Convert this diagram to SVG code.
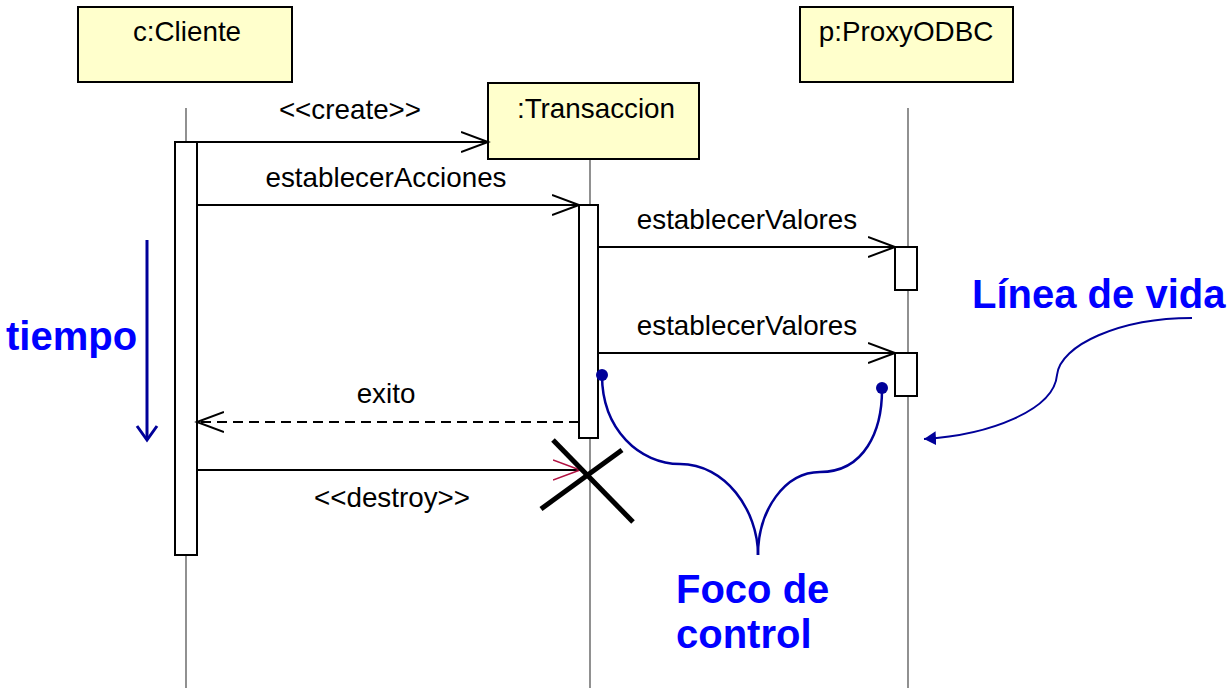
<svg xmlns="http://www.w3.org/2000/svg" width="1227" height="688" viewBox="0 0 1227 688">
<defs>
<style>
.obj{fill:#ffffcc;stroke:#000;stroke-width:2}
.act{fill:#fff;stroke:#000;stroke-width:2}
.life{stroke:#555;stroke-width:1.3;fill:none}
.msg{stroke:#000;stroke-width:2;fill:none}
.t{font-family:"Liberation Sans",Arial,sans-serif;font-size:27.8px;fill:#000}
.b{font-family:"Liberation Sans",Arial,sans-serif;font-size:40px;font-weight:bold;fill:#0000ff}
.note{stroke:#000099;stroke-width:2.5;fill:none}
</style>
<marker id="open" markerWidth="30" markerHeight="24" refX="27" refY="10" orient="auto" markerUnits="userSpaceOnUse" viewBox="0 0 30 20">
<path d="M0,0 L27,10 L0,20" fill="none" stroke="#000" stroke-width="2"/>
</marker>
<marker id="openred" markerWidth="30" markerHeight="24" refX="27" refY="10" orient="auto" markerUnits="userSpaceOnUse" viewBox="0 0 30 20">
<path d="M0,0 L27,10 L0,20" fill="none" stroke="#b01040" stroke-width="1.6"/>
</marker>
<marker id="tarrow" markerWidth="24" markerHeight="24" refX="20" refY="12" orient="auto" markerUnits="userSpaceOnUse" viewBox="0 0 24 24">
<path d="M6,2 L20,12 L6,22" fill="none" stroke="#000099" stroke-width="3"/>
</marker>
<marker id="fill" markerWidth="20" markerHeight="16" refX="12" refY="7" orient="auto" markerUnits="userSpaceOnUse" viewBox="0 0 20 14">
<path d="M0,0 L12,7 L0,14 Z" fill="#000099"/>
</marker>
</defs>
<rect width="1227" height="688" fill="#fff"/>
<g id="lifelines">
<line class="life" x1="186" y1="108" x2="186" y2="688"/>
<line class="life" x1="590" y1="159" x2="590" y2="688"/>
<line class="life" x1="908" y1="108" x2="908" y2="688"/>
</g>
<g id="cliente">
<rect class="obj" x="78" y="7" width="214" height="75"/>
<text class="t" x="187" y="41" text-anchor="middle">c:Cliente</text>
<rect class="act" x="175" y="142" width="22" height="413"/>
</g>
<g id="transaccion">
<rect class="obj" x="488" y="83" width="211" height="76"/>
<text class="t" x="596" y="118" text-anchor="middle">:Transaccion</text>
<rect class="act" x="579" y="205" width="19" height="233"/>
</g>
<g id="proxy">
<rect class="obj" x="800" y="7" width="213" height="75"/>
<text class="t" x="906" y="41" text-anchor="middle">p:ProxyODBC</text>
<rect class="act" x="895" y="247" width="22" height="43"/>
<rect class="act" x="895" y="353" width="22" height="43"/>
</g>
<g id="connectors">
<line class="msg" x1="197" y1="142" x2="488" y2="142" marker-end="url(#open)"/>
<text class="t" x="350" y="119" text-anchor="middle">&lt;&lt;create&gt;&gt;</text>
<line class="msg" x1="197" y1="205" x2="579" y2="205" marker-end="url(#open)"/>
<text class="t" x="386" y="187" text-anchor="middle">establecerAcciones</text>
<line class="msg" x1="598" y1="247" x2="895" y2="247" marker-end="url(#open)"/>
<text class="t" x="747" y="229" text-anchor="middle">establecerValores</text>
<line class="msg" x1="598" y1="353" x2="895" y2="353" marker-end="url(#open)"/>
<text class="t" x="747" y="335" text-anchor="middle">establecerValores</text>
<line class="msg" x1="579" y1="422" x2="197" y2="422" stroke-dasharray="10,6" marker-end="url(#open)"/>
<text class="t" x="386" y="403" text-anchor="middle">exito</text>
<line class="msg" x1="197" y1="470" x2="580" y2="470" marker-end="url(#openred)"/>
<text class="t" x="392" y="507" text-anchor="middle">&lt;&lt;destroy&gt;&gt;</text>
</g>
<g id="destroy-x">
<line x1="553" y1="440" x2="633" y2="522" stroke="#000" stroke-width="5"/>
<line x1="622" y1="450" x2="541" y2="509" stroke="#000" stroke-width="5"/>
</g>
<g id="tiempo">
<line x1="147" y1="240" x2="147" y2="440" stroke="#000099" stroke-width="3" marker-end="url(#tarrow)"/>
<text class="b" x="6" y="350">tiempo</text>
</g>
<g id="linea-de-vida">
<text class="b" x="972" y="308">Línea de vida</text>
<path d="M1192,318 C1120,318 1060,345 1057,375 C1054,410 990,435 924,439" stroke="#000099" stroke-width="2" fill="none" marker-end="url(#fill)"/>
</g>
<g id="foco-de-control">
<circle cx="602" cy="375" r="6" fill="#000099"/>
<circle cx="882" cy="388" r="6" fill="#000099"/>
<path class="note" d="M602,375 C602,430 640,464 680,464 C725,464 758,510 758,555"/>
<path class="note" d="M758,555 C758,510 785,472 820,472 C865,472 882,430 882,390"/>
<text class="b" x="676" y="603">Foco de</text>
<text class="b" x="676" y="648">control</text>
</g>
</svg>
